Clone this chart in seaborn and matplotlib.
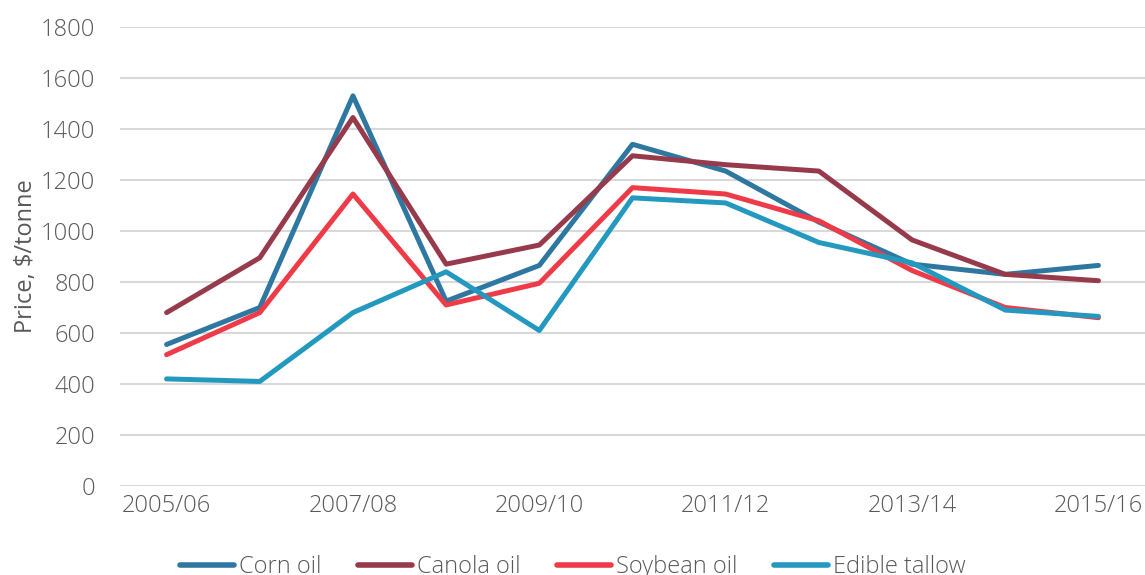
import numpy as np
import pandas as pd
import seaborn as sns
import matplotlib.pyplot as plt

# ── Data ──────────────────────────────────────────────────────────────────────
years = ["2005/06", "2006/07", "2007/08", "2008/09", "2009/10", "2010/11",
         "2011/12", "2012/13", "2013/14", "2014/15", "2015/16"]
corn_oil    = [555, 700, 1530, 725, 865, 1340, 1235, 1035, 870, 830, 865]
canola_oil  = [680, 895, 1445, 870, 945, 1295, 1260, 1235, 965, 830, 805]
soybean_oil = [515, 680, 1145, 710, 795, 1170, 1145, 1040, 845, 700, 660]
tallow      = [420, 410, 680, 840, 610, 1130, 1110, 955, 875, 690, 665]

series = {"Corn oil": corn_oil, "Canola oil": canola_oil,
          "Soybean oil": soybean_oil, "Edible tallow": tallow}
colors = ["#2E77A0", "#963A4C", "#EF3B47", "#2499C0"]

df = pd.concat([pd.DataFrame({"year": years, "price": v, "product": k})
                for k, v in series.items()], ignore_index=True)

# ── Style ─────────────────────────────────────────────────────────────────────
sns.set_style("white")
plt.rcParams["font.family"] = ["Open Sans", "DejaVu Sans"]
plt.rcParams["font.weight"] = "light"
txt = "#595959"
fs = 17

fig = plt.figure(figsize=(11.45, 5.75), dpi=100)
ax = fig.add_axes([120 / 1145, 89 / 575, 1025 / 1145, 459 / 575])

sns.lineplot(data=df, x="year", y="price", hue="product", palette=colors,
             sort=False, linewidth=3.6, ax=ax, legend=True)

ax.set_xlim(-0.5, len(years) - 0.5)
ax.set_ylim(0, 1800)
ax.set_yticks(np.arange(0, 1801, 200))
ax.set_xticks(range(0, len(years), 2))
ax.set_xticklabels(years[::2])
ax.yaxis.grid(True, color="#d9d9d9", linewidth=1.5)
ax.set_axisbelow(True)
for s in ax.spines.values():
    s.set_visible(False)
ax.tick_params(axis="both", length=0, labelsize=fs, labelcolor=txt)
ax.tick_params(axis="x", pad=6)
ax.tick_params(axis="y", pad=18)
ax.set_xlabel("")
ax.set_ylabel("Price, $/tonne", fontsize=fs, color=txt, labelpad=2)

handles, labels = ax.get_legend_handles_labels()
ax.get_legend().remove()
leg = fig.legend(handles, labels, loc="center", bbox_to_anchor=(0.5, 8 / 575),
                 ncol=4, frameon=False, fontsize=fs, handlelength=2.3,
                 handletextpad=0.2, columnspacing=1.55)
for t in leg.get_texts():
    t.set_color(txt)
for h in leg.get_lines():
    h.set_linewidth(4)
    h.set_solid_capstyle("round")

fig.savefig("out.png", dpi=100)
